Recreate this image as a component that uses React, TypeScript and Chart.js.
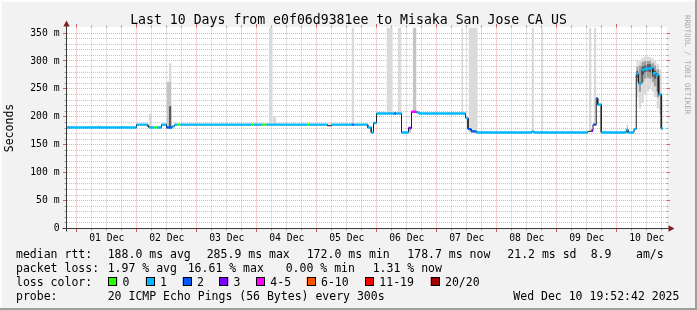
import React, { useEffect, useRef } from "react";
import { Chart, registerables } from "chart.js";

Chart.register(...registerables);

// ---------- texts ----------
const TITLE = "Last 10 Days from e0f06d9381ee to Misaka San Jose CA US";
const Y_TITLE = "Seconds";
const WATERMARK = "RRDTOOL / TOBI OETIKER";

// ---------- axes ----------
// x = hours since the start of the window (Nov 30 19:52)
const SPAN_HOURS = 240;
const FIRST_MIDNIGHT_H = 4.13;
const dayLabels = ["01 Dec", "02 Dec", "03 Dec", "04 Dec", "05 Dec", "06 Dec", "07 Dec", "08 Dec", "09 Dec", "10 Dec"];
const Y_MAX = 360;
const yMajorValues = [0, 50, 100, 150, 200, 250, 300, 350];
const yMajorLabels = ["0", "50 m", "100 m", "150 m", "200 m", "250 m", "300 m", "350 m"];
const Y_MINOR_STEP = 10;

// ---------- median rtt (ms), as steps: start hour, value, loss bucket (-1 = uncoloured) ----------
const medianStart = [0, 28, 32.5, 33, 35.2, 36.4, 38, 40, 42.3, 43.2, 44.4, 45.5, 74, 74.8, 78.4, 80, 96.3, 97, 104.4, 106, 114, 115, 120.5, 121.9, 122.8, 124, 130.8, 131.9, 134, 136.8, 138, 140, 141, 159.6, 160.6, 161.9, 163.9, 186, 187, 208.5, 209.9, 210.6, 211.9, 212.5, 213.9, 223.9, 224.6, 227, 227.9, 228.8, 230.2, 231.2, 233.2, 234.5, 235.9, 236.9, 237.9];
const medianMs = [181, 186, 183, 181, 181, 181, 186, 181, 183, 186, 186, 186, 186, 186, 186, 186, 186, 186, 184, 186, 186, 186, 181, 172, 189, 206, 206, 206, 172, 180, 209, 208, 206, 198, 178, 174, 172, 173.5, 172, 174, 175, 186, 233, 222, 172, 177, 172, 178, 277, 260, 284, 286, 287.5, 278, 275, 240, 179];
const medianLoss = [1, 1, -1, 1, 0, 1, 1, 2, 1, 1, 0, 1, 0, 1, 0, 1, 0, 1, -1, 1, 2, 1, 1, 1, 1, 1, 2, 1, 1, 3, 4, 1, 1, 1, 2, 2, 1, 1, 1, -1, 3, 2, 2, 1, 1, 1, 1, 1, 1, 1, 1, 1, 1, 1, 1, 1, 1];
const MEDIAN_END_H = 238.6;

// ---------- smoke (ping spread): from hour, to hour, low ms, high ms, density ----------
const smokeFrom = [12.5, 32.9, 40, 41, 41, 81, 82.5, 104.5, 114, 128, 132.5, 136.8, 138.5, 157.9, 160.8, 186, 190, 209, 211, 224,
  227.9, 228.8, 229.9, 231, 232, 233, 234, 235, 236, 237, 238,
  227.9, 228.8, 229.9, 231, 232, 233, 234, 235, 236,
  227.9, 229.9, 231, 232, 233, 234, 235, 236];
const smokeTo = [14, 34, 42, 42, 42, 82.5, 84, 106, 115, 130.5, 134, 138, 140, 158.6, 164.5, 187, 190.6, 210, 212, 224.6,
  228.8, 229.9, 231, 232, 233, 234, 235, 236, 237, 238, 238.6,
  228.8, 229.9, 231, 232, 233, 234, 235, 236, 237,
  228.8, 231, 232, 233, 234, 235, 236, 237];
const smokeLow = [181, 181, 181, 263, 181, 186, 186, 184, 186, 206, 206, 172, 209, 206, 172, 172, 172, 175, 186, 172,
  235, 215, 225, 240, 245, 250, 245, 235, 215, 205, 178,
  262, 245, 262, 268, 270, 268, 262, 255, 235,
  270, 276, 280, 281, 280, 272, 268, 245];
const smokeHigh = [184, 206, 263, 296, 219, 400, 201, 188, 400, 400, 400, 180, 400, 400, 400, 400, 400, 400, 400, 186,
  300, 302, 306, 308, 308, 307, 305, 300, 295, 285, 240,
  290, 292, 298, 300, 300, 300, 296, 292, 285,
  282, 290, 292, 294, 294, 286, 283, 275];
const smokeDensity = [1, 1, 2, 1, 4, 1, 1, 1, 1, 1, 1, 2, 2, 1, 1, 1, 1, 1, 1, 2,
  1, 1, 1, 1, 1, 1, 1, 1, 1, 1, 1,
  3, 3, 3, 3, 3, 3, 3, 3, 3,
  4, 4, 4, 4, 4, 4, 4, 4];

// ---------- legend ----------
const lossLabels = ["0", "1", "2", "3", "4-5", "6-10", "11-19", "20/20"];
const lossColors = ["#26ff00", "#00b8ff", "#0059ff", "#7e00ff", "#ff00ff", "#ff5500", "#ff0000", "#a00000"];
const rttRow = ["median rtt:", "188.0 ms avg", "285.9 ms max", "172.0 ms min", "178.7 ms now", "21.2 ms sd", "8.9", "am/s"];
const lossRow = ["packet loss:", "1.97 % avg", "16.61 % max", "0.00 % min", "1.31 % now"];
const LOSS_TITLE = "loss color:";
const probeRow = ["probe:", "20 ICMP Echo Pings (56 Bytes) every 300s", "Wed Dec 10 19:52:42 2025"];

// ---------- styles / layout ----------
const MONO = "'DejaVu Sans Mono', 'Liberation Mono', monospace";
const smokeShade = ["", "#dadada", "#c4c4c4", "#a0a0a0", "#5c5c5c"];
const GRID_MINOR = "rgba(143,143,143,0.5)";
const GRID_MAJOR = "rgba(222,80,80,0.5)";

function stepEnd(i: number) {
  return i + 1 < medianStart.length ? medianStart[i + 1] : MEDIAN_END_H;
}

function buildDatasets() {
  const ds: any[] = [];
  // coloured median segments
  lossColors.forEach((color, level) => {
    const pts: any[] = [];
    medianStart.forEach((s, i) => {
      if (medianLoss[i] !== level) return;
      const e = stepEnd(i);
      pts.push({ x: s, y: medianMs[i] }, { x: e, y: medianMs[i] }, { x: e, y: null });
    });
    if (!pts.length) return;
    ds.push({
      type: "line", data: pts, borderColor: color, borderWidth: 2.4, borderCapStyle: "butt",
      pointRadius: 0, spanGaps: false, fill: false, order: 0, tension: 0,
    });
  });
  // thin black median
  const blk: any[] = [];
  medianStart.forEach((s, i) => {
    blk.push({ x: s, y: medianMs[i] }, { x: stepEnd(i), y: medianMs[i] });
  });
  ds.push({ type: "line", data: blk, borderColor: "#202020", borderWidth: 1, pointRadius: 0, fill: false, order: 1, tension: 0 });
  // smoke
  smokeFrom.forEach((f, i) => {
    ds.push({
      type: "line",
      data: [{ x: f, y: smokeHigh[i] }, { x: smokeTo[i], y: smokeHigh[i] }],
      borderWidth: 0, borderColor: "transparent", pointRadius: 0,
      backgroundColor: smokeShade[smokeDensity[i]],
      fill: { value: smokeLow[i] },
      order: 6 - smokeDensity[i], tension: 0,
    });
  });
  return ds;
}

const xTickValues: number[] = [];
for (let k = 0; FIRST_MIDNIGHT_H + 6 * k <= SPAN_HOURS; k++) xTickValues.push(FIRST_MIDNIGHT_H + 6 * k);
const yTickValues: number[] = [];
for (let v = 0; v <= yMajorValues[yMajorValues.length - 1]; v += Y_MINOR_STEP) yTickValues.push(v);

const decor = {
  id: "rrdDecor",
  beforeDraw(chart: any) {
    const { ctx, width, height, chartArea: a } = chart;
    ctx.save();
    ctx.fillStyle = "#f2f2f2";
    ctx.fillRect(0, 0, width, height);
    ctx.fillStyle = "#fcfcfc";
    ctx.fillRect(0, 0, width, 2);
    ctx.fillRect(0, 0, 2, height);
    ctx.fillStyle = "#9e9e9e";
    ctx.fillRect(0, height - 2, width, 2);
    ctx.fillRect(width - 2, 0, 2, height);
    ctx.fillStyle = "#ffffff";
    ctx.fillRect(Math.round(a.left), Math.floor(a.top), Math.round(a.right - a.left), Math.round(a.bottom - a.top));
    ctx.restore();
  },
  afterDraw(chart: any) {
    const { ctx, chartArea: a, scales } = chart;
    const xs = scales.x, ys = scales.y;
    ctx.save();
    // tick marks
    ctx.lineWidth = 1;
    yTickValues.forEach((v) => {
      const major = v % 50 === 0;
      const py = Math.round(ys.getPixelForValue(v) - 0.5) + 0.5;
      ctx.strokeStyle = major ? "rgba(200,60,60,0.8)" : "rgba(120,120,120,0.7)";
      const len = major ? 3.5 : 2;
      ctx.beginPath();
      ctx.moveTo(a.left - len, py); ctx.lineTo(a.left, py);
      ctx.moveTo(a.right, py); ctx.lineTo(a.right + len, py);
      ctx.stroke();
    });
    xTickValues.forEach((h, k) => {
      const major = k % 4 === 0;
      const px = Math.round(xs.getPixelForValue(h) - 0.5) + 0.5;
      ctx.strokeStyle = major ? "rgba(200,60,60,0.8)" : "rgba(120,120,120,0.7)";
      const len = major ? 3.5 : 2;
      ctx.beginPath();
      ctx.moveTo(px, a.bottom); ctx.lineTo(px, a.bottom + len);
      ctx.moveTo(px, a.top); ctx.lineTo(px, a.top - len);
      ctx.stroke();
    });
    // axes
    ctx.strokeStyle = "#3a3a3a";
    ctx.beginPath();
    ctx.moveTo(a.left, a.bottom + 3); ctx.lineTo(a.left, a.top - 2);
    ctx.moveTo(a.left - 4, a.bottom); ctx.lineTo(a.right + 2, a.bottom);
    ctx.stroke();
    ctx.fillStyle = "#801f1f";
    ctx.beginPath();
    ctx.moveTo(a.left, a.top - 7); ctx.lineTo(a.left - 3.2, a.top - 1); ctx.lineTo(a.left + 3.2, a.top - 1); ctx.closePath();
    ctx.fill();
    ctx.beginPath();
    ctx.moveTo(a.right + 8, a.bottom); ctx.lineTo(a.right + 2, a.bottom - 3.2); ctx.lineTo(a.right + 2, a.bottom + 3.2); ctx.closePath();
    ctx.fill();

    // title
    ctx.fillStyle = "#000";
    ctx.textBaseline = "alphabetic";
    ctx.textAlign = "center";
    ctx.font = `13.2px ${MONO}`;
    ctx.fillText(TITLE, chart.width / 2, 24);

    // y title
    ctx.save();
    ctx.translate(10.5, (a.top + a.bottom) / 2);
    ctx.rotate(-Math.PI / 2);
    ctx.font = `11.5px ${MONO}`;
    ctx.textBaseline = "middle";
    ctx.fillText(Y_TITLE, 0, 0);
    ctx.restore();

    // watermark
    ctx.save();
    ctx.translate(685, 15);
    ctx.rotate(Math.PI / 2);
    ctx.font = `7.5px ${MONO}`;
    ctx.fillStyle = "#a8a8a8";
    ctx.textAlign = "left";
    ctx.textBaseline = "alphabetic";
    ctx.fillText(WATERMARK, 0, 0);
    ctx.restore();

    // legend
    ctx.font = `11.5px ${MONO}`;
    ctx.textAlign = "left";
    ctx.textBaseline = "alphabetic";
    ctx.fillStyle = "#000";
    const rowY = [257.9, 272.1, 286.3, 300.4];
    const rttX = [16, 107.7, 206.7, 306.7, 407.3, 507.3, 590.7, 636];
    rttRow.forEach((t, i) => ctx.fillText(t, rttX[i], rowY[0]));
    const lossX = [16, 107.7, 187.7, 285.7, 372.7];
    lossRow.forEach((t, i) => ctx.fillText(t, lossX[i], rowY[1]));
    ctx.fillText(LOSS_TITLE, 16, rowY[2]);
    const boxX = [108.3, 145.7, 182.7, 219.3, 256, 306.7, 365, 430.7];
    lossLabels.forEach((t, i) => {
      ctx.fillStyle = lossColors[i];
      ctx.fillRect(boxX[i], 277, 9, 9);
      ctx.strokeStyle = "#000";
      ctx.lineWidth = 1;
      ctx.strokeRect(Math.round(boxX[i]) + 0.5, 277.5, 8, 8);
      ctx.fillStyle = "#000";
      ctx.fillText(t, boxX[i] + 14.3, rowY[2]);
    });
    const probeX = [16, 107.7, 513.3];
    probeRow.forEach((t, i) => ctx.fillText(t, probeX[i], rowY[3]));
    ctx.restore();
  },
};

export default function App() {
  const ref = useRef<HTMLCanvasElement | null>(null);
  useEffect(() => {
    document.body.style.margin = "0";
    const canvas = ref.current!;
    const chart = new Chart(canvas, {
      type: "line",
      data: { datasets: buildDatasets() },
      options: {
        animation: false,
        responsive: true,
        maintainAspectRatio: false,
        devicePixelRatio: 1,
        events: [],
        layout: { padding: { left: 0, right: 30.5, top: 27.5, bottom: 0 } },
        plugins: { legend: { display: false }, tooltip: { enabled: false }, title: { display: false } },
        scales: {
          x: {
            type: "linear",
            min: 0,
            max: SPAN_HOURS,
            afterBuildTicks: (s: any) => { s.ticks = xTickValues.map((v) => ({ value: v })); },
            afterFit: (s: any) => { s.height = 81.5; },
            ticks: {
              autoSkip: false, maxRotation: 0, minRotation: 0, padding: 4,
              color: "#000", font: { family: MONO, size: 9.75 },
              callback: (_v: any, i: number) => (i % 4 === 2 ? dayLabels[(i - 2) / 4] : ""),
            },
            grid: {
              drawTicks: false, lineWidth: 1,
              color: (c: any) => (c.index % 4 === 0 ? GRID_MAJOR : GRID_MINOR),
            },
            border: { display: false, dash: [1, 1] },
          },
          y: {
            type: "linear",
            min: 0,
            max: Y_MAX,
            afterBuildTicks: (s: any) => { s.ticks = yTickValues.map((v) => ({ value: v })); },
            afterFit: (s: any) => { s.width = 66.5; },
            ticks: {
              autoSkip: false, padding: 7, color: "#000", font: { family: MONO, size: 9.75 },
              callback: (v: any) => {
                const j = yMajorValues.indexOf(Number(v));
                return j >= 0 ? yMajorLabels[j] : "";
              },
            },
            grid: {
              drawTicks: false, lineWidth: 1,
              color: (c: any) => (c.tick && c.tick.value % 50 === 0 ? GRID_MAJOR : GRID_MINOR),
            },
            border: { display: false, dash: [1, 1] },
          },
        },
      } as any,
      plugins: [decor],
    });
    return () => chart.destroy();
  }, []);
  return (
    <div style={{ width: 697, height: 310, position: "relative" }}>
      <canvas ref={ref} />
    </div>
  );
}
